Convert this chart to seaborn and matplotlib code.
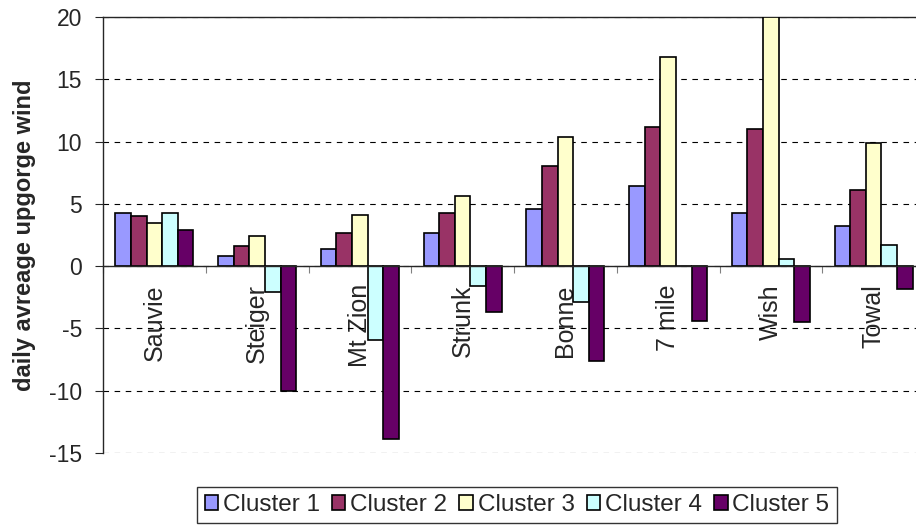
import matplotlib
matplotlib.use("Agg")
import matplotlib.pyplot as plt
import pandas as pd
import seaborn as sns
from matplotlib.ticker import FixedLocator

sites = ["Sauvie", "Steiger", "Mt Zion", "Strunk", "Bonne", "7 mile", "Wish", "Towal"]
clusters = ["Cluster 1", "Cluster 2", "Cluster 3", "Cluster 4", "Cluster 5"]

cluster1 = [4.3, 0.8, 1.4, 2.7, 4.6, 6.4, 4.3, 3.2]
cluster2 = [4.0, 1.6, 2.7, 4.3, 8.0, 11.2, 11.0, 6.1]
cluster3 = [3.5, 2.4, 4.1, 5.6, 10.4, 16.8, 20.0, 9.9]
cluster4 = [4.3, -2.1, -5.9, -1.6, -2.9, 0.0, 0.6, 1.7]
cluster5 = [2.9, -10.0, -13.9, -3.7, -7.6, -4.4, -4.5, -1.8]

colors = ["#9999FF", "#993366", "#FFFFCC", "#CCFFFF", "#660066"]


def build_frame() -> pd.DataFrame:
    rows = []
    for name, vals in zip(clusters, [cluster1, cluster2, cluster3, cluster4, cluster5]):
        for site, v in zip(sites, vals):
            rows.append({"site": site, "cluster": name, "wind": v})
    return pd.DataFrame(rows)


df = build_frame()

sns.set_style("white")
plt.rcParams["font.family"] = ["Liberation Sans", "DejaVu Sans"]
plt.rcParams["axes.unicode_minus"] = False

fig = plt.figure(figsize=(9.16, 5.29), dpi=100)
ax = fig.add_axes([103 / 916, 1 - 453 / 529, 822 / 916, 436 / 529])

sns.barplot(
    data=df,
    x="site",
    y="wind",
    hue="cluster",
    order=sites,
    hue_order=clusters,
    palette=colors,
    width=0.76,
    edgecolor="black",
    linewidth=1.2,
    saturation=1,
    errorbar=None,
    legend=True,
    ax=ax,
    zorder=3,
)

ax.set_xlim(-0.5, 7.5)
ax.set_ylim(-15, 20)
ax.set_yticks(range(-15, 21, 5))
ax.yaxis.grid(True, linestyle=(0, (5, 5)), color="black", linewidth=0.8, zorder=0)
ax.set_axisbelow(True)

ax.spines["bottom"].set_position(("data", 0))
ax.spines["bottom"].set_linewidth(1.0)
ax.spines["bottom"].set_zorder(4)
ax.spines["left"].set_linewidth(1.0)
ax.spines["top"].set_linewidth(1.0)
ax.spines["right"].set_visible(False)

ax.tick_params(axis="y", direction="out", length=6, width=0.8, labelsize=16.5, left=True, pad=9)
ax.tick_params(axis="x", which="major", length=0, pad=13, labelsize=18)
ax.xaxis.set_minor_locator(FixedLocator([i + 0.5 for i in range(-1, 8)]))
ax.tick_params(axis="x", which="minor", direction="out", length=5, width=0.8, bottom=True, color="gray")
for lbl in ax.get_xticklabels():
    lbl.set_rotation(90)
    lbl.set_va("top")
    lbl.set_ha("center")

ax.set_xlabel("")
ax.set_ylabel("daily avreage upgorge wind", fontsize=17, fontweight="bold")
ax.yaxis.set_label_coords((25 - 103) / 822, 0.5)
ax.yaxis.label.set_va("center")

handles, labels = ax.get_legend_handles_labels()
ax.get_legend().remove()
leg = fig.legend(
    handles,
    labels,
    loc="center",
    bbox_to_anchor=(517 / 916, 1 - 505 / 529),
    ncol=5,
    fontsize=17.5,
    frameon=True,
    fancybox=False,
    edgecolor="black",
    handlelength=0.55,
    handleheight=0.55,
    handletextpad=0.2,
    columnspacing=0.5,
    borderpad=0.3,
    borderaxespad=0,
)
leg.get_frame().set_linewidth(1.0)

fig.savefig("out.png", dpi=100)
